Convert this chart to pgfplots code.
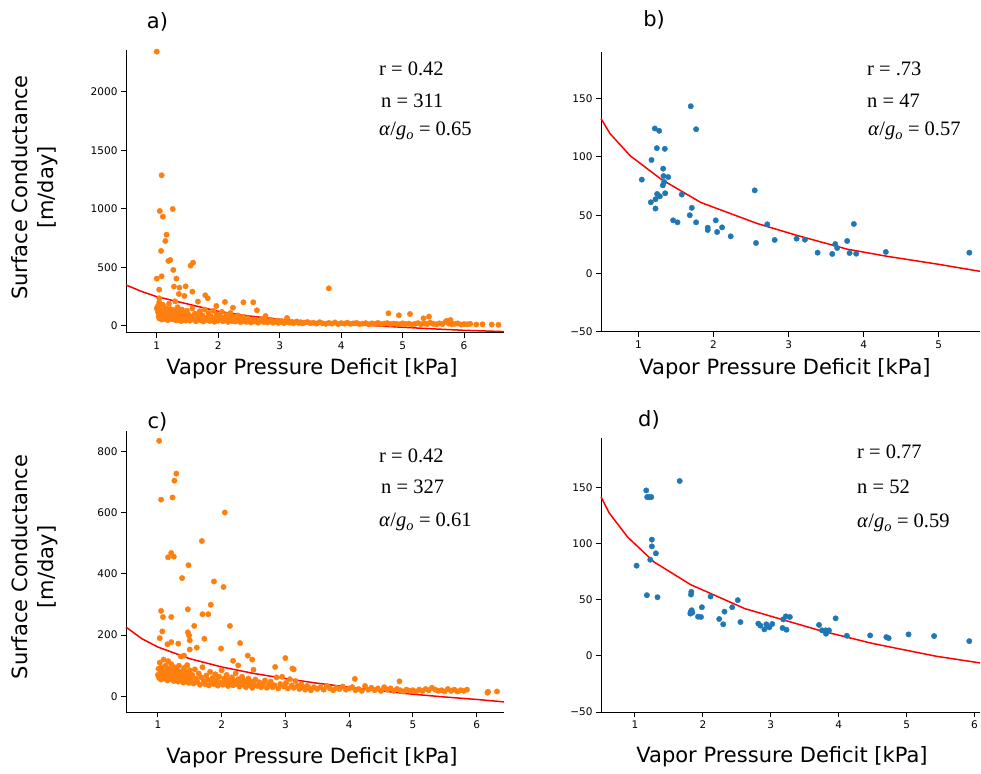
\documentclass[border=0pt]{standalone}
\usepackage{fontspec}
\setmainfont{DejaVu Sans}
\newfontfamily\tnr{Liberation Serif}
\usepackage{pgfplots}
\pgfplotsset{compat=1.18}

\definecolor{tabOrange}{HTML}{FF7F0E}
\definecolor{tabBlue}{HTML}{1F77B4}

\pgfplotsset{
  panel/.style={
    scale only axis,
    axis lines=left,
    axis line style={-, line width=1pt, black},
    tick align=outside,
    major tick length=5pt,
    tick style={line width=1pt, black},
    tick label style={font=\fontsize{10.5}{12}\selectfont},
    clip=false,
  },
  dots/.style={only marks, mark=*, mark size=2.7pt, color=#1,
    mark options={draw=#1, fill=#1}},
  fitline/.style={red, line width=1.5pt, mark=none},
}

\newcommand{\lbl}{\fontsize{21}{26}\selectfont}
\newcommand{\ann}{\tnr\fontsize{20.5}{24}\selectfont}
\tikzset{stat/.style={font=\ann, anchor=base west, inner sep=0pt}}

\begin{document}
\begin{tikzpicture}
\useasboundingbox (0pt,0pt) rectangle (981pt,773pt);

% ---------------- a) ----------------
\begin{axis}[panel, at={(126pt,440pt)}, anchor=south west,
  width=378pt, height=283pt,
  xmin=0.5, xmax=6.65, ymin=-60, ymax=2355,
  xtick={1,2,3,4,5,6}, xticklabels={1,2,3,4,5,6},
  ytick={0,500,1000,1500,2000}, yticklabels={0,500,1000,1500,2000}]
\addplot[dots=tabOrange] coordinates {
(1.0,2341)(1.08,1286)(1.05,981)(1.10,933)(1.26,998)(1.16,779)(1.14,725)(1.07,640)
(1.22,563)(1.19,555)(1.59,540)(1.55,515)(1.27,478)(1.0,404)(1.08,424)(1.32,404)
(1.04,310)(1.28,336)(1.37,327)(1.47,338)(1.58,293)(3.80,321)(1.04,236)(1.36,273)
(1.45,256)(1.79,262)(1.83,236)(2.11,205)(2.41,202)(2.57,202)(1.67,208)(1.97,171)
(2.24,156)(2.63,134)(4.77,108)(5.12,102)(4.94,91)(5.43,80)(5.34,65)(2.77,85)
(3.12,68)(5.78,51)(1.0,150)(1.04,200)(1.02,170)(1.1,180)(1.2,190)(1.3,210)
(1.02,120)(1.03,85)(1.04,65)(1.05,140)(1.06,100)(1.07,75)(1.08,55)(1.09,110)
(1.10,90)(1.11,130)(1.12,70)(1.13,60)(1.14,95)(1.15,150)(1.16,80)(1.17,105)
(1.18,50)(1.19,125)(1.20,72)(1.21,88)(1.22,145)(1.23,62)(1.24,98)(1.25,115)
(1.26,58)(1.27,82)(1.28,135)(1.29,68)(1.30,92)(1.31,48)(1.32,108)(1.33,76)
(1.34,160)(1.35,52)(1.36,86)(1.37,120)(1.38,64)(1.39,96)(1.40,42)(1.41,140)
(1.42,74)(1.43,102)(1.44,56)(1.45,84)(1.46,112)(1.47,46)(1.48,70)(1.49,130)(1.50,60)
(1.52,95)(1.54,45)(1.56,78)(1.58,150)(1.60,55)(1.62,105)(1.64,40)(1.66,88)
(1.68,65)(1.70,125)(1.72,48)(1.74,92)(1.76,38)(1.78,140)(1.80,70)(1.82,52)
(1.84,110)(1.86,42)(1.88,82)(1.90,60)(1.92,130)(1.94,36)(1.96,75)(1.98,100)
(2.00,45)(2.02,88)(2.04,58)(2.06,120)(2.08,40)(2.10,72)(2.12,50)(2.14,95)
(2.16,35)(2.18,65)(2.20,110)(2.22,42)(2.24,80)(2.26,55)(2.28,38)(2.30,68)
(2.32,90)(2.34,45)(2.36,32)(2.38,60)(2.40,78)(2.42,40)(2.44,52)(2.46,35)(2.48,66)(2.50,44)
(2.53,30)(2.56,55)(2.59,38)(2.62,48)(2.65,28)(2.68,42)(2.71,60)(2.74,34)
(2.77,45)(2.80,30)(2.83,38)(2.86,52)(2.89,28)(2.92,36)(2.95,44)(2.98,26)
(3.01,34)(3.04,40)(3.07,25)(3.10,32)(3.13,48)(3.16,28)(3.19,35)(3.22,24)
(3.25,30)(3.28,38)(3.31,26)(3.34,32)(3.37,22)(3.40,28)(3.45,34)(3.50,24)
(3.55,28)(3.6,20)(3.65,32)(3.7,22)(3.75,18)(3.8,26)(3.85,20)(3.9,30)(3.95,16)
(4.0,24)(4.05,20)(4.1,28)(4.15,18)(4.2,22)(4.25,26)(4.3,16)(4.35,20)(4.4,24)
(4.45,14)(4.5,22)(4.55,18)(4.6,26)(4.65,15)(4.7,20)(4.75,24)(4.8,16)(4.85,20)
(4.9,18)(4.95,14)(5.0,22)(5.05,16)(5.1,20)(5.15,12)(5.2,18)(5.25,24)(5.3,14)
(5.35,20)(5.4,16)(5.45,28)(5.5,18)(5.55,14)(5.6,22)(5.65,16)(5.7,36)(5.72,44)
(5.75,20)(5.8,14)(5.85,18)(5.9,22)(5.95,12)(6.0,16)(6.05,14)(6.1,18)(6.2,12)
(6.3,14)(6.45,12)(6.56,10)
};
\addplot[fitline] coordinates {
(0.5,350)(0.75,295)(1,250)(1.5,188)(2,125)(2.5,85)(3,57)(3.5,34)(4,17)
(4.5,3)(5,-11)(5.5,-25)(6,-37)(6.65,-48)
};
\end{axis}

% ---------------- b) ----------------
\begin{axis}[panel, at={(601pt,441pt)}, anchor=south west,
  width=379pt, height=280pt,
  xmin=0.5, xmax=5.55, ymin=-50, ymax=190,
  xtick={1,2,3,4,5}, xticklabels={1,2,3,4,5},
  ytick={-50,0,50,100,150}, yticklabels={−50,0,50,100,150}]
\addplot[dots=tabBlue] coordinates {
(1.696,143.5)(1.767,123.8)(1.217,124.4)(1.275,122.4)(1.244,107.6)(1.350,107.0)
(1.173,97.4)(1.044,80.6)(1.328,90.0)(1.333,83.7)(1.395,82.8)(1.324,75.7)
(1.341,78.6)(1.355,68.9)(1.576,67.8)(1.248,68.3)(1.284,66.3)(1.226,63.8)
(1.164,61.2)(1.226,55.8)(1.710,56.4)(1.683,50.1)(2.548,71.4)(1.461,45.7)
(1.519,44.0)(1.767,44.0)(2.029,45.7)(1.922,39.4)(1.922,37.4)(2.113,39.7)
(2.047,35.7)(2.228,32.0)(2.716,42.3)(2.565,26.3)(2.814,28.9)(3.106,30.0)
(3.217,29.1)(3.386,18.0)(3.581,16.9)(3.621,25.4)(3.647,22.0)(3.780,28.0)
(3.812,17.7)(3.869,42.6)(3.900,17.1)(4.295,18.6)(5.408,18.0)
};
\addplot[fitline] coordinates {
(0.5,133)(0.62,120)(0.89,101)(1.3,81)(1.83,61)(2.58,43)(3.1,33)(3.78,21)
(4.3,15)(5.0,8)(5.55,2)
};
\end{axis}

% ---------------- c) ----------------
\begin{axis}[panel, at={(126pt,61pt)}, anchor=south west,
  width=378pt, height=281pt,
  xmin=0.5, xmax=6.43, ymin=-51, ymax=866,
  xtick={1,2,3,4,5,6}, xticklabels={1,2,3,4,5,6},
  ytick={0,200,400,600,800}, yticklabels={0,200,400,600,800}]
\addplot[dots=tabOrange] coordinates {
(1.02,834)(1.05,642)(1.29,727)(1.26,704)(1.23,649)(1.69,507)(2.05,600)
(1.16,454)(1.21,468)(1.25,456)(1.48,428)(1.38,386)(1.88,375)(2.03,357)
(1.83,299)(1.05,279)(1.08,259)(1.21,259)(1.47,284)(1.70,268)(1.79,268)
(2.13,230)(1.57,230)(1.07,212)(1.03,190)(1.47,209)(1.49,199)(1.73,188)
(1.50,183)(1.21,177)(1.15,170)(1.32,172)(2.29,174)(1.50,153)(1.61,159)
(1.99,156)(2.41,133)(2.48,120)(3.00,125)(1.41,133)(2.18,116)(3.13,88)
(3.11,91)(2.84,96)(2.50,87)(2.26,101)(4.09,57)(4.79,49)(6.32,16)(6.17,12)(6.18,15)
(1.0,70)(1.01,90)(1.02,60)(1.03,110)(1.04,75)(1.05,55)(1.06,95)(1.07,65)
(1.08,80)(1.09,120)(1.10,58)(1.11,72)(1.12,100)(1.13,62)(1.14,85)(1.15,52)
(1.16,115)(1.17,68)(1.18,90)(1.19,56)(1.20,78)(1.21,105)(1.22,60)(1.23,84)
(1.24,70)(1.25,50)(1.26,95)(1.27,64)(1.28,74)(1.29,55)(1.30,88)(1.31,66)
(1.32,48)(1.33,100)(1.34,58)(1.35,76)(1.36,130)(1.37,52)(1.38,82)(1.39,62)
(1.40,45)(1.41,92)(1.42,68)(1.43,56)(1.44,78)(1.45,48)(1.46,102)(1.47,60)
(1.48,72)(1.49,44)(1.50,85)
(1.52,55)(1.54,70)(1.56,42)(1.58,88)(1.60,58)(1.62,46)(1.64,75)(1.66,38)
(1.68,62)(1.70,95)(1.72,50)(1.74,40)(1.76,68)(1.78,55)(1.80,36)(1.82,80)
(1.84,48)(1.86,60)(1.88,40)(1.90,72)(1.92,52)(1.94,35)(1.96,64)(1.98,45)
(2.00,85)(2.02,38)(2.04,58)(2.06,48)(2.08,70)(2.10,34)(2.12,54)(2.14,42)
(2.16,62)(2.18,36)(2.20,50)(2.22,75)(2.24,40)(2.26,56)(2.28,32)(2.30,46)
(2.32,64)(2.34,38)(2.36,52)(2.38,30)(2.40,44)(2.42,58)(2.44,36)(2.46,48)
(2.48,28)(2.50,40)
(2.53,55)(2.56,34)(2.59,46)(2.62,30)(2.65,40)(2.68,52)(2.71,28)(2.74,38)
(2.77,48)(2.80,30)(2.83,36)(2.86,62)(2.89,26)(2.92,40)(2.95,64)(2.98,32)
(3.01,44)(3.04,26)(3.07,56)(3.10,36)(3.13,28)(3.16,50)(3.19,34)(3.22,24)
(3.25,40)(3.28,30)(3.31,22)(3.34,34)(3.37,28)(3.40,20)(3.45,30)(3.50,24)
(3.55,30)(3.6,22)(3.65,34)(3.7,26)(3.75,20)(3.8,28)(3.85,24)(3.9,32)(3.95,22)
(4.0,26)(4.05,30)(4.1,20)(4.15,24)(4.2,18)(4.25,34)(4.3,22)(4.35,28)(4.4,20)
(4.45,26)(4.5,18)(4.55,30)(4.6,22)(4.65,26)(4.7,18)(4.75,24)(4.8,20)(4.85,16)
(4.9,22)(4.95,18)(5.0,20)(5.05,16)(5.1,22)(5.15,18)(5.2,24)(5.3,28)(5.25,20)
(5.35,22)(5.4,18)(5.45,20)(5.5,16)(5.55,24)(5.6,18)(5.65,22)(5.7,16)(5.75,20)
(5.8,18)(5.85,22)
};
\addplot[fitline] coordinates {
(0.5,226)(0.75,188)(1,161)(1.5,123)(2,96)(2.5,75)(3,58)(3.5,43)(4,30)
(4.5,18)(5,7)(5.5,-2)(6,-10)(6.43,-18)
};
\end{axis}

% ---------------- d) ----------------
\begin{axis}[panel, at={(601pt,61pt)}, anchor=south west,
  width=379pt, height=274pt,
  xmin=0.5, xmax=6.08, ymin=-50, ymax=194,
  xtick={1,2,3,4,5,6}, xticklabels={1,2,3,4,5,6},
  ytick={-50,0,50,100,150}, yticklabels={−50,0,50,100,150}]
\addplot[dots=tabBlue] coordinates {
(1.659,155.7)(1.166,147.3)(1.18,141.4)(1.21,141.4)(1.24,141.4)(1.249,103.5)
(1.249,97.5)(1.308,91.3)(1.024,80.3)(1.225,85.6)(1.176,54.0)(1.332,52.2)
(1.830,57.0)(1.825,54.6)(2.113,52.8)(2.514,49.6)(1.835,40.6)(1.820,39.1)
(1.815,37.6)(1.845,38.5)(1.986,43.3)(1.928,34.9)(1.972,34.6)(2.240,32.8)
(2.318,39.4)(2.299,28.1)(2.431,43.3)(2.553,30.1)(2.816,28.7)(2.846,26.9)
(2.905,23.6)(2.934,28.1)(2.978,25.4)(3.021,28.4)(3.173,24.8)(3.183,32.5)
(3.222,35.2)(3.280,34.6)(3.231,23.3)(3.710,27.5)(3.754,22.7)(3.808,22.7)
(3.812,19.7)(3.856,22.7)(3.954,33.4)(4.120,17.9)(4.462,18.2)(4.701,16.7)
(4.735,15.8)(5.028,19.1)(5.404,17.6)(5.922,13.1)
};
\addplot[fitline] coordinates {
(0.5,141.6)(0.62,127.3)(0.89,105.9)(1.28,83.6)(1.82,63.4)(2.62,42)
(3.72,22.6)(4.5,11)(5.43,-0.3)(6.08,-6.3)
};
\end{axis}

% ---------------- text ----------------
\node[font=\lbl] at (157.5pt,751pt) {a)};
\node[font=\lbl] at (654pt,753pt) {b)};
\node[font=\lbl] at (157.5pt,351pt) {c)};
\node[font=\lbl] at (649pt,353pt) {d)};

\node[font=\lbl, rotate=90, align=center] at (35pt,585.5pt) {Surface Conductance\\{[m/day]}};
\node[font=\lbl, rotate=90, align=center] at (35pt,206pt) {Surface Conductance\\{[m/day]}};

\node[font=\lbl] at (312pt,404pt) {Vapor Pressure Deficit [kPa]};
\node[font=\lbl] at (785pt,404pt) {Vapor Pressure Deficit [kPa]};
\node[font=\lbl] at (312pt,15pt) {Vapor Pressure Deficit [kPa]};
\node[font=\lbl] at (782pt,16pt) {Vapor Pressure Deficit [kPa]};

\node[stat] at (379pt,697pt) {r = 0.42};
\node[stat] at (381pt,665pt) {n = 311};
\node[stat] at (379pt,637pt) {\textit{α}/\textit{g}\textsubscript{\textit{o}} = 0.65};

\node[stat] at (867pt,697pt) {r = .73};
\node[stat] at (867pt,665pt) {n = 47};
\node[stat] at (868pt,637pt) {\textit{α}/\textit{g}\textsubscript{\textit{o}} = 0.57};

\node[stat] at (379pt,310pt) {r = 0.42};
\node[stat] at (381pt,279pt) {n = 327};
\node[stat] at (379pt,246pt) {\textit{α}/\textit{g}\textsubscript{\textit{o}} = 0.61};

\node[stat] at (857pt,314pt) {r = 0.77};
\node[stat] at (857pt,279pt) {n = 52};
\node[stat] at (857pt,245pt) {\textit{α}/\textit{g}\textsubscript{\textit{o}} = 0.59};
\end{tikzpicture}
\end{document}
